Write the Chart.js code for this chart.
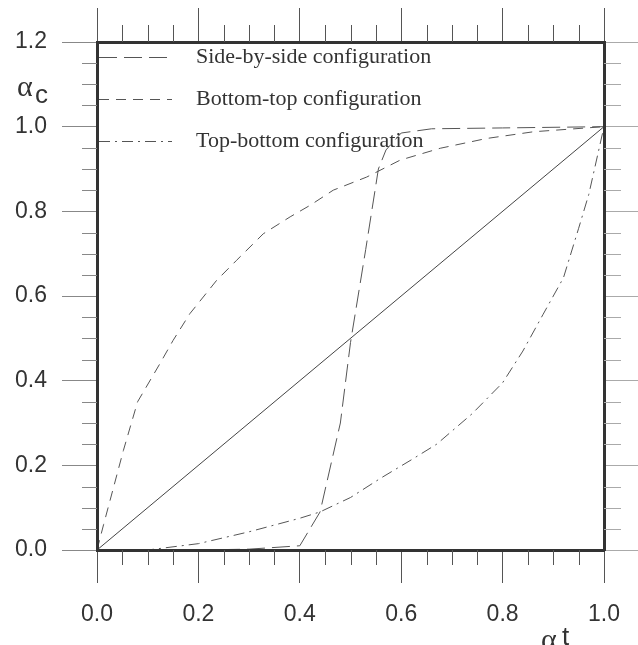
<!DOCTYPE html>
<html>
<head>
<meta charset="utf-8">
<title>alpha_c vs alpha_t</title>
<script src="https://cdn.jsdelivr.net/npm/chart.js@4.4.1/dist/chart.umd.min.js"></script>
<style>
  html, body { margin: 0; padding: 0; background: #fff; }
  canvas { display: block; }
</style>
</head>
<body>
<canvas id="chart" width="638" height="645"></canvas>
<script>
// tick values of the axes
const xTickValues = [0, 0.2, 0.4, 0.6, 0.8, 1.0];
const yTickValues = [0, 0.2, 0.4, 0.6, 0.8, 1.0, 1.2];

// reference line alpha_c = alpha_t
const diagonalX = [0, 1.0];
const diagonalY = [0, 1.0];

// values
const sideBySideX = [0, 0.1, 0.2, 0.3, 0.4, 0.44, 0.48, 0.5, 0.53, 0.555, 0.57, 0.6, 0.66, 0.8, 1.0];
const sideBySideY = [0, 0, 0, 0.002, 0.01, 0.09, 0.30, 0.49, 0.71, 0.90, 0.945, 0.985, 0.995, 0.997, 1.0];

const bottomTopX = [0, 0.013, 0.052, 0.08, 0.124, 0.15, 0.183, 0.236, 0.275, 0.328, 0.381, 0.42, 0.466, 0.532, 0.598, 0.677, 0.768, 0.861, 1.0];
const bottomTopY = [0, 0.06, 0.235, 0.35, 0.44, 0.495, 0.558, 0.637, 0.684, 0.747, 0.787, 0.814, 0.85, 0.881, 0.921, 0.949, 0.972, 0.988, 1.0];

const topBottomX = [0, 0.1, 0.2, 0.3, 0.4, 0.44, 0.5, 0.56, 0.62, 0.67, 0.74, 0.8, 0.84, 0.88, 0.92, 0.95, 0.97, 1.0];
const topBottomY = [0, 0.0, 0.015, 0.043, 0.075, 0.09, 0.124, 0.17, 0.213, 0.25, 0.322, 0.395, 0.47, 0.557, 0.643, 0.76, 0.84, 1.0];

const seriesLabels = ["Side-by-side configuration", "Bottom-top configuration", "Top-bottom configuration"];

function toPoints(xs, ys) {
  return xs.map((x, i) => ({ x, y: ys[i] }));
}

// small minor ticks every 0.05 on the four sides
const minorTicks = {
  id: "minorTicks",
  afterDraw(chart) {
    const { ctx, chartArea, scales } = chart;
    ctx.save();
    ctx.lineWidth = 1;
    const line = (x1, y1, x2, y2) => {
      ctx.beginPath();
      ctx.moveTo(x1, y1);
      ctx.lineTo(x2, y2);
      ctx.stroke();
    };
    for (let i = 1; i < 20; i++) {
      if (i % 4 === 0) continue;
      const px = Math.round(scales.x.getPixelForValue(i * 0.05)) + 0.5;
      ctx.strokeStyle = "#555";
      line(px, chartArea.bottom, px, chartArea.bottom + 15);
      line(px, chartArea.top, px, chartArea.top - 17);
    }
    for (let i = 1; i < 24; i++) {
      if (i % 4 === 0) continue;
      const py = Math.round(scales.y.getPixelForValue(i * 0.05)) + 0.5;
      ctx.strokeStyle = "#888";
      line(chartArea.left - 15, py, chartArea.left, py);
      ctx.strokeStyle = "#aaa";
      line(chartArea.right, py, chartArea.right + 17, py);
    }
    ctx.restore();
  }
};

// legend inside the box, top left
const insideLegend = {
  id: "insideLegend",
  afterDraw(chart) {
    const { ctx, chartArea } = chart;
    ctx.save();
    ctx.font = '22px "Liberation Serif"';
    ctx.fillStyle = "#333";
    ctx.textBaseline = "middle";
    let y = chartArea.top + 15;
    chart.data.datasets.forEach(ds => {
      if (!ds.label) return;
      ctx.strokeStyle = ds.borderColor;
      ctx.lineWidth = 1;
      ctx.setLineDash(ds.borderDash || []);
      ctx.beginPath();
      ctx.moveTo(chartArea.left + 2, y + 0.5);
      ctx.lineTo(chartArea.left + 75, y + 0.5);
      ctx.stroke();
      ctx.fillText(ds.label, chartArea.left + 99, y);
      y += 42;
    });
    ctx.restore();
  }
};

// alpha_c and alpha_t axis names
const axisNames = {
  id: "axisNames",
  afterDraw(chart) {
    const ctx = chart.ctx;
    ctx.save();
    ctx.fillStyle = "#333";
    ctx.textBaseline = "alphabetic";
    ctx.font = '30px "Liberation Serif"';
    ctx.fillText("α", 17, 96);
    ctx.fillText("α", 541, 649);
    ctx.font = '26px "Liberation Sans"';
    ctx.fillText("c", 35, 103);
    ctx.fillText("t", 562, 645);
    ctx.restore();
  }
};

const lineColor = "#555";

const chart = new Chart(document.getElementById("chart"), {
  type: "scatter",
  data: {
    datasets: [
      {
        data: toPoints(diagonalX, diagonalY),
        borderColor: "#444",
        borderWidth: 1
      },
      {
        label: seriesLabels[0],
        data: toPoints(sideBySideX, sideBySideY),
        borderColor: lineColor,
        borderWidth: 1,
        borderDash: [18, 7]
      },
      {
        label: seriesLabels[1],
        data: toPoints(bottomTopX, bottomTopY),
        borderColor: lineColor,
        borderWidth: 1,
        borderDash: [10, 7]
      },
      {
        label: seriesLabels[2],
        data: toPoints(topBottomX, topBottomY),
        borderColor: lineColor,
        borderWidth: 1,
        borderDash: [11, 5, 2, 5]
      }
    ]
  },
  options: {
    responsive: false,
    animation: false,
    devicePixelRatio: 1,
    layout: { padding: 0 },
    datasets: {
      scatter: { showLine: true, pointRadius: 0, pointHoverRadius: 0, tension: 0, fill: false }
    },
    plugins: {
      legend: { display: false },
      tooltip: { enabled: false }
    },
    scales: {
      x: {
        type: "linear",
        position: "bottom",
        min: 0,
        max: 1,
        afterBuildTicks: s => { s.ticks = xTickValues.map(v => ({ value: v })); },
        afterFit: s => { s.height = 95; },
        ticks: {
          callback: v => v.toFixed(1),
          padding: 18,
          color: "#333",
          maxRotation: 0,
          autoSkip: false,
          font: { family: "Liberation Sans", size: 23 }
        },
        grid: { drawOnChartArea: false, tickLength: 33, tickColor: "#555", tickWidth: 1 },
        border: { color: "#333", width: 3, z: 1 }
      },
      y: {
        type: "linear",
        position: "left",
        min: 0,
        max: 1.2,
        afterBuildTicks: s => { s.ticks = yTickValues.map(v => ({ value: v })); },
        afterFit: s => { s.width = 97; },
        ticks: {
          callback: v => v.toFixed(1),
          padding: 15,
          color: "#333",
          autoSkip: false,
          font: { family: "Liberation Sans", size: 23 }
        },
        grid: { drawOnChartArea: false, tickLength: 35, tickColor: "#888", tickWidth: 1 },
        border: { color: "#333", width: 3, z: 1 }
      },
      xTop: {
        type: "linear",
        position: "top",
        min: 0,
        max: 1,
        afterBuildTicks: s => { s.ticks = xTickValues.map(v => ({ value: v })); },
        afterFit: s => { s.height = 42; },
        ticks: { display: false },
        grid: { drawOnChartArea: false, tickLength: 34, tickColor: "#555", tickWidth: 1 },
        border: { color: "#333", width: 3, z: 1 }
      },
      yRight: {
        type: "linear",
        position: "right",
        min: 0,
        max: 1.2,
        afterBuildTicks: s => { s.ticks = yTickValues.map(v => ({ value: v })); },
        afterFit: s => { s.width = 34; },
        ticks: { display: false },
        grid: { drawOnChartArea: false, tickLength: 34, tickColor: "#aaa", tickWidth: 1 },
        border: { color: "#333", width: 3, z: 1 }
      }
    }
  },
  plugins: [minorTicks, insideLegend, axisNames]
});
</script>
</body>
</html>
